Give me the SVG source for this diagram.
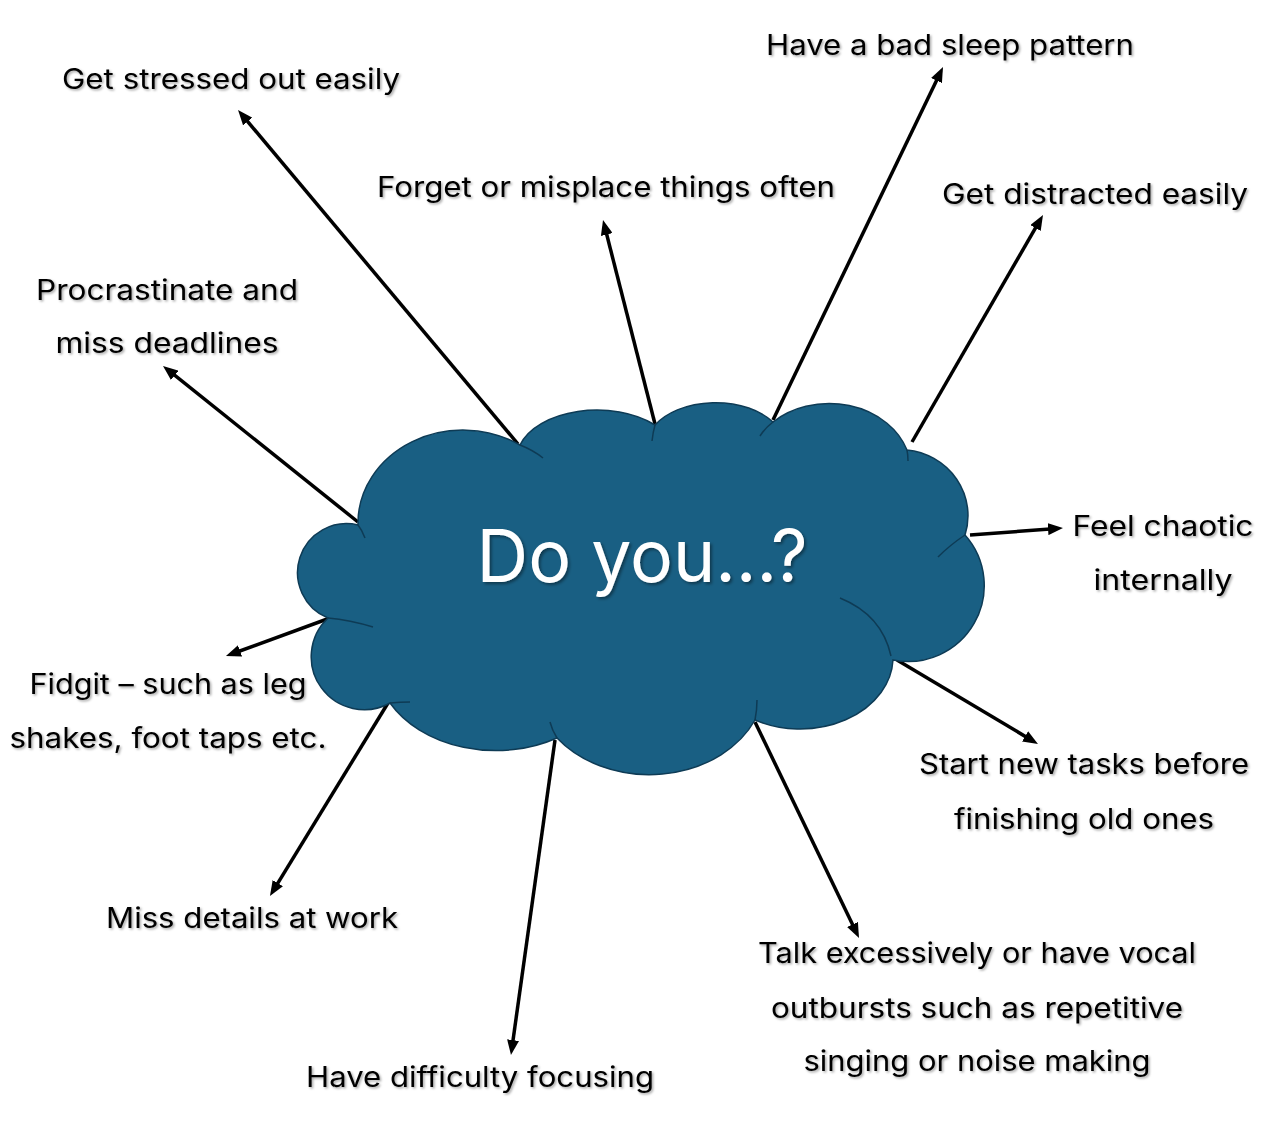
<svg xmlns="http://www.w3.org/2000/svg" width="1274" height="1132" viewBox="0 0 1274 1132">
  <defs>
    <style>
      .lbl { font-family: Inter, "Liberation Sans", sans-serif; font-size: 28px; fill: #000; text-anchor: middle; filter: url(#sh); }
      .title { font-family: Inter, "Liberation Sans", sans-serif; font-size: 73px; fill: #fff; text-anchor: middle; filter: url(#sh2); }
      .conn { stroke: #000; stroke-width: 3.5; fill: none; marker-end: url(#ah); }
      .cloud { fill: #195f83; stroke: #0e3b55; stroke-width: 1.5; }
      .inner { fill: none; stroke: #0e3b55; stroke-width: 1.5; }
    </style>
    <filter id="sh" x="-10%" y="-30%" width="120%" height="160%">
      <feDropShadow dx="1.5" dy="1.5" stdDeviation="1.2" flood-color="#000" flood-opacity="0.35"/>
    </filter>
    <filter id="sh2" x="-10%" y="-30%" width="120%" height="160%">
      <feDropShadow dx="2" dy="2" stdDeviation="1.5" flood-color="#000" flood-opacity="0.4"/>
    </filter>
    <marker id="ah" markerUnits="userSpaceOnUse" markerWidth="15" markerHeight="12" viewBox="0 0 15 12" refX="9" refY="6" orient="auto">
      <path d="M0,0 L15,6 L0,12 z" fill="#000"/>
    </marker>
  </defs>
  <rect width="1274" height="1132" fill="#fff"/>

  <g id="connectors">
    <line class="conn" x1="518" y1="444" x2="241.9" y2="114.6"/>
    <line class="conn" x1="655" y1="424" x2="604.5" y2="225.8"/>
    <line class="conn" x1="773" y1="420" x2="940.4" y2="72.4"/>
    <line class="conn" x1="912" y1="442" x2="1040" y2="220.2"/>
    <line class="conn" x1="358" y1="522" x2="167.7" y2="369.7"/>
    <line class="conn" x1="970" y1="535" x2="1057" y2="528.5"/>
    <line class="conn" x1="330" y1="618" x2="231.6" y2="654"/>
    <line class="conn" x1="897" y1="660" x2="1032.8" y2="740.9"/>
    <line class="conn" x1="388" y1="703" x2="273.1" y2="890.9"/>
    <line class="conn" x1="555" y1="740" x2="511.8" y2="1049"/>
    <line class="conn" x1="755" y1="722" x2="856.4" y2="932.6"/>
  </g>

  <g id="cloud">
    <path class="cloud" d="M358,525 A105,93 0 0 1 520,445 A80,48 0 0 1 655,425 A70,45 0 0 1 773,422 A82,68 0 0 1 907,450 A68,66 0 0 1 965,535 A76,76 0 0 1 893,660 A93,72 0 0 1 755,720 A116,93 0 0 1 557,738 A120,90 0 0 1 390,703 A53,53 0 0 1 328,618 A49,49 0 0 1 358,525 Z"/>
    <path class="inner" d="M358,525 Q362,530 365,538"/>
    <path class="inner" d="M520,445 Q533,450 543,458"/>
    <path class="inner" d="M655,425 Q653,432 652,441"/>
    <path class="inner" d="M773,422 Q765,428 760,436"/>
    <path class="inner" d="M907,450 Q908,455 908,461"/>
    <path class="inner" d="M965,535 Q950,545 938,557"/>
    <path class="inner" d="M840,598 Q882,615 891,656"/>
    <path class="inner" d="M755,720 Q757,710 757,700"/>
    <path class="inner" d="M557,738 Q552,730 550,722"/>
    <path class="inner" d="M390,703 Q400,702 410,702"/>
    <path class="inner" d="M328,618 Q350,620 373,627"/>
    <text class="title" x="642" y="582" textLength="331" lengthAdjust="spacingAndGlyphs">Do you…?</text>
  </g>

  <g id="n-stressed"><text class="lbl" x="231" y="89" textLength="338" lengthAdjust="spacingAndGlyphs">Get stressed out easily</text></g>
  <g id="n-sleep"><text class="lbl" x="950" y="55" textLength="368" lengthAdjust="spacingAndGlyphs">Have a bad sleep pattern</text></g>
  <g id="n-forget"><text class="lbl" x="606" y="197" textLength="458" lengthAdjust="spacingAndGlyphs">Forget or misplace things often</text></g>
  <g id="n-distracted"><text class="lbl" x="1095" y="204" textLength="306" lengthAdjust="spacingAndGlyphs">Get distracted easily</text></g>
  <g id="n-procrastinate"><text class="lbl" x="167" y="300" textLength="262" lengthAdjust="spacingAndGlyphs">Procrastinate and</text><text class="lbl" x="167" y="353" textLength="223" lengthAdjust="spacingAndGlyphs">miss deadlines</text></g>
  <g id="n-chaotic"><text class="lbl" x="1163" y="536" textLength="181" lengthAdjust="spacingAndGlyphs">Feel chaotic</text><text class="lbl" x="1163" y="590" textLength="139" lengthAdjust="spacingAndGlyphs">internally</text></g>
  <g id="n-fidgit"><text class="lbl" x="168" y="694" textLength="277" lengthAdjust="spacingAndGlyphs">Fidgit – such as leg</text><text class="lbl" x="168" y="748" textLength="317" lengthAdjust="spacingAndGlyphs">shakes, foot taps etc.</text></g>
  <g id="n-tasks"><text class="lbl" x="1084" y="774" textLength="330" lengthAdjust="spacingAndGlyphs">Start new tasks before</text><text class="lbl" x="1084" y="829" textLength="260" lengthAdjust="spacingAndGlyphs">finishing old ones</text></g>
  <g id="n-details"><text class="lbl" x="252" y="928" textLength="292" lengthAdjust="spacingAndGlyphs">Miss details at work</text></g>
  <g id="n-talk"><text class="lbl" x="977" y="963" textLength="438" lengthAdjust="spacingAndGlyphs">Talk excessively or have vocal</text><text class="lbl" x="977" y="1018" textLength="412" lengthAdjust="spacingAndGlyphs">outbursts such as repetitive</text><text class="lbl" x="977" y="1071" textLength="347" lengthAdjust="spacingAndGlyphs">singing or noise making</text></g>
  <g id="n-focus"><text class="lbl" x="480" y="1087" textLength="348" lengthAdjust="spacingAndGlyphs">Have difficulty focusing</text></g>
</svg>
